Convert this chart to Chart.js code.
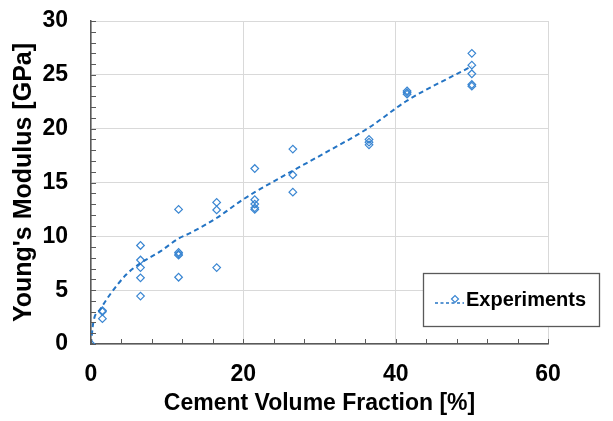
<!DOCTYPE html>
<html>
<head>
<meta charset="utf-8">
<script src="https://cdn.jsdelivr.net/npm/chart.js@4.4.1/dist/chart.umd.min.js"></script>
<style>
  html, body { margin: 0; padding: 0; background: #ffffff; }
  #wrap { width: 613px; height: 421px; position: relative; }
</style>
</head>
<body>
<div id="wrap"><canvas id="chart" width="613" height="421"></canvas></div>
<script>
// Cement volume fraction groups [%] and the measured Young's moduli [GPa] at each
const fractions = [0, 1.5, 6.5, 11.5, 16.5, 21.5, 26.5, 36.5, 41.5, 50];
const moduli = [
  [0],
  [3.1, 3.0, 2.35],
  [9.15, 7.8, 7.1, 6.15, 4.45],
  [12.5, 8.5, 8.35, 8.25, 6.2],
  [13.15, 12.45, 7.1],
  [16.3, 13.4, 13.0, 12.65, 12.5],
  [18.1, 15.7, 14.1],
  [19.0, 18.75, 18.5],
  [23.5, 23.35, 23.2],
  [27.0, 25.9, 25.1, 24.1, 23.95]
];

// Trend curve through the measurements
const trendFraction = [0, 0.3, 1.2, 2.6, 4.7, 6.5, 9.1, 11.5, 13.0, 16.5, 19.6, 21.5, 24, 26.5, 30.6, 36.5, 41.5, 50];
const trendModulus  = [0, 2.0, 3.2, 4.7, 6.5, 7.5, 8.6, 9.8, 10.3, 11.7, 13.25, 14.1, 15.1, 16.1, 17.7, 20.1, 22.6, 25.8];

const seriesName = 'Experiments';
const xTitle = 'Cement Volume Fraction [%]';
const yTitle = "Young's Modulus [GPa]";

const FONT = '"Liberation Sans", Arial, Helvetica, sans-serif';
const MARK = '#3a86d2';
const LINE = '#2474c4';
const AXIS = '#595959';
const GRID = '#d9d9d9';

const points = [];
fractions.forEach((f, i) => moduli[i].forEach(v => points.push({ x: f, y: v })));
const trend = trendFraction.map((f, i) => ({ x: f, y: trendModulus[i] }));

// Small inward tick marks along both axes
const innerTicks = {
  id: 'innerTicks',
  afterDraw(chart) {
    const { ctx, chartArea: a, scales: { x, y } } = chart;
    ctx.save();
    ctx.strokeStyle = AXIS;
    ctx.lineWidth = 1;
    ctx.beginPath();
    for (let v = 0; v <= 60; v += 4) {
      const px = Math.round(x.getPixelForValue(v)) + 0.5;
      ctx.moveTo(px, a.bottom);
      ctx.lineTo(px, a.bottom - 5);
    }
    for (let v = 0; v <= 30; v += 1) {
      const py = Math.round(y.getPixelForValue(v)) + 0.5;
      ctx.moveTo(a.left, py);
      ctx.lineTo(a.left + 5, py);
    }
    ctx.stroke();
    ctx.restore();
  }
};

// Boxed legend in the lower right corner of the plot
const boxLegend = {
  id: 'boxLegend',
  afterDraw(chart) {
    const { ctx, chartArea: a } = chart;
    const label = chart.data.datasets[1].label;
    const bx = a.right - 125, by = a.bottom - 71, bw = 176, bh = 53;
    ctx.save();
    ctx.fillStyle = '#ffffff';
    ctx.fillRect(bx, by, bw, bh);
    ctx.strokeStyle = AXIS;
    ctx.lineWidth = 1.3;
    ctx.strokeRect(bx + 0.5, by + 0.5, bw, bh);
    const cy = by + 29;
    ctx.strokeStyle = LINE;
    ctx.lineWidth = 1.5;
    ctx.setLineDash([3, 2.5]);
    ctx.beginPath();
    ctx.moveTo(bx + 12, cy + 1);
    ctx.lineTo(bx + 41, cy + 1);
    ctx.stroke();
    ctx.setLineDash([]);
    ctx.strokeStyle = MARK;
    ctx.lineWidth = 1.2;
    ctx.beginPath();
    const mx = bx + 32, my = cy - 3, r = 3.5;
    ctx.moveTo(mx - r, my); ctx.lineTo(mx, my - r); ctx.lineTo(mx + r, my); ctx.lineTo(mx, my + r); ctx.closePath();
    ctx.stroke();
    ctx.fillStyle = '#000000';
    ctx.font = 'bold 20px ' + FONT;
    ctx.textBaseline = 'alphabetic';
    ctx.fillText(label, bx + 43, by + 33);
    ctx.restore();
  }
};

new Chart(document.getElementById('chart'), {
  type: 'scatter',
  data: {
    datasets: [
      {
        label: 'trend',
        data: trend,
        showLine: true,
        borderColor: LINE,
        borderWidth: 2,
        borderDash: [5, 3.5],
        cubicInterpolationMode: 'monotone',
        pointRadius: 0,
        fill: false
      },
      {
        label: seriesName,
        data: points,
        pointStyle: 'rectRot',
        pointRadius: 3.8,
        pointBorderWidth: 1.2,
        pointBorderColor: MARK,
        pointBackgroundColor: 'rgba(0,0,0,0)',
        showLine: false
      }
    ]
  },
  options: {
    responsive: false,
    animation: false,
    layout: { padding: { top: 21, right: 65, left: 0, bottom: 0 } },
    plugins: { legend: { display: false }, tooltip: { enabled: false } },
    scales: {
      x: {
        type: 'linear', min: 0, max: 60,
        afterFit(s) { s.height = 77; s.paddingLeft = 0; s.paddingRight = 0; },
        ticks: { stepSize: 20, color: '#000', padding: 17, font: { family: FONT, size: 23, weight: 'bold' } },
        grid: { color: GRID, lineWidth: 1, drawTicks: false },
        border: { color: AXIS, width: 1.5 },
        title: { display: true, text: xTitle, color: '#000', padding: { top: 0, bottom: 4 },
                 font: { family: FONT, size: 23, weight: 'bold' } }
      },
      y: {
        type: 'linear', min: 0, max: 30,
        afterFit(s) { s.width = 91; s.paddingTop = 0; s.paddingBottom = 0; },
        ticks: { stepSize: 5, color: '#000', padding: 23, font: { family: FONT, size: 23, weight: 'bold' } },
        grid: { color: GRID, lineWidth: 1, drawTicks: false },
        border: { color: AXIS, width: 1.5 },
        title: { display: true, text: yTitle, color: '#000', padding: { top: 9, bottom: 0 },
                 font: { family: FONT, size: 25, weight: 'bold' } }
      }
    }
  },
  plugins: [innerTicks, boxLegend]
});
</script>
</body>
</html>
